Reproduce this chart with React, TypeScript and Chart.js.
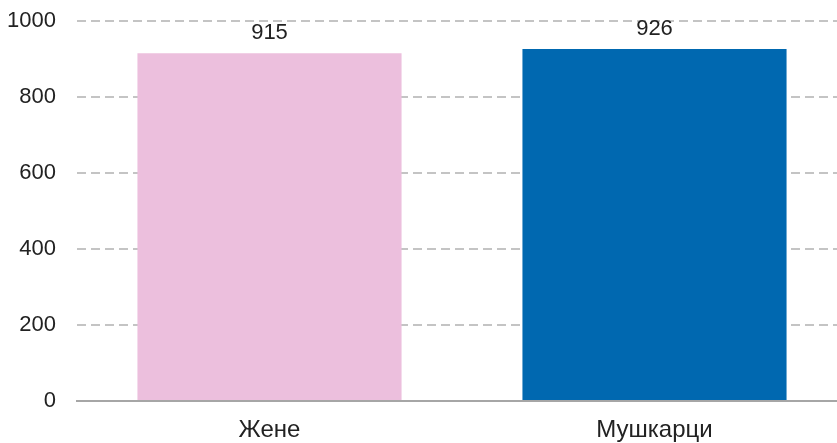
import React, { useEffect, useRef } from "react";
import { Chart, registerables } from "chart.js";

Chart.register(...registerables);

const categories = ["Жене", "Мушкарци"];
const values = [915, 926];
const barColors = ["#ECBFDD", "#0068B0"];
const yTicks = [0, 200, 400, 600, 800, 1000];

const FONT = "'Liberation Sans', Arial, Helvetica, sans-serif";

const valueLabels = {
  id: "valueLabels",
  afterDatasetsDraw(chart: any) {
    const ctx = chart.ctx;
    const meta = chart.getDatasetMeta(0);
    ctx.save();
    ctx.font = `22px ${FONT}`;
    ctx.fillStyle = "#222";
    ctx.textAlign = "center";
    ctx.textBaseline = "alphabetic";
    meta.data.forEach((bar: any, i: number) => {
      ctx.fillText(String(values[i]), bar.x, bar.y - 14);
    });
    ctx.restore();
  },
};

export default function App() {
  const ref = useRef<HTMLCanvasElement | null>(null);
  useEffect(() => {
    if (!ref.current) return;
    const chart = new Chart(ref.current, {
      type: "bar",
      data: {
        labels: categories,
        datasets: [
          {
            data: values,
            backgroundColor: barColors,
            borderWidth: 0,
            barPercentage: 0.686,
            categoryPercentage: 1,
          },
        ],
      },
      options: {
        responsive: false,
        animation: false,
        layout: { padding: { top: 21, left: 0, right: 0, bottom: 0 } },
        plugins: { legend: { display: false }, tooltip: { enabled: false } },
        scales: {
          x: {
            grid: { display: false, drawTicks: false },
            border: { display: true, color: "#a6a6a6", width: 2 },
            ticks: {
              padding: 15,
              color: "#222",
              font: { family: FONT, size: 24 },
            },
            afterFit(scale: any) {
              scale.height = 42;
              scale.paddingLeft = 0;
              scale.paddingRight = 0;
            },
          },
          y: {
            min: 0,
            max: 1000,
            afterBuildTicks(scale: any) {
              scale.ticks = yTicks.map((v) => ({ value: v }));
            },
            grid: {
              color: "#c4c4c4",
              lineWidth: 2,
              drawTicks: false,
            },
            border: { display: false, dash: [9, 5] },
            ticks: {
              padding: 21,
              color: "#222",
              font: { family: FONT, size: 22 },
              callback: (v: any) => String(v),
            },
            afterFit(scale: any) {
              scale.width = 77;
              scale.paddingTop = 0;
              scale.paddingBottom = 0;
            },
          },
        },
      },
      plugins: [valueLabels],
    });
    return () => chart.destroy();
  }, []);
  return (
    <div
      style={{
        position: "fixed",
        left: 0,
        top: 0,
        width: 837,
        height: 443,
        overflow: "hidden",
        background: "#fff",
      }}
    >
      <canvas ref={ref} width={847} height={443} style={{ display: "block" }} />
    </div>
  );
}
